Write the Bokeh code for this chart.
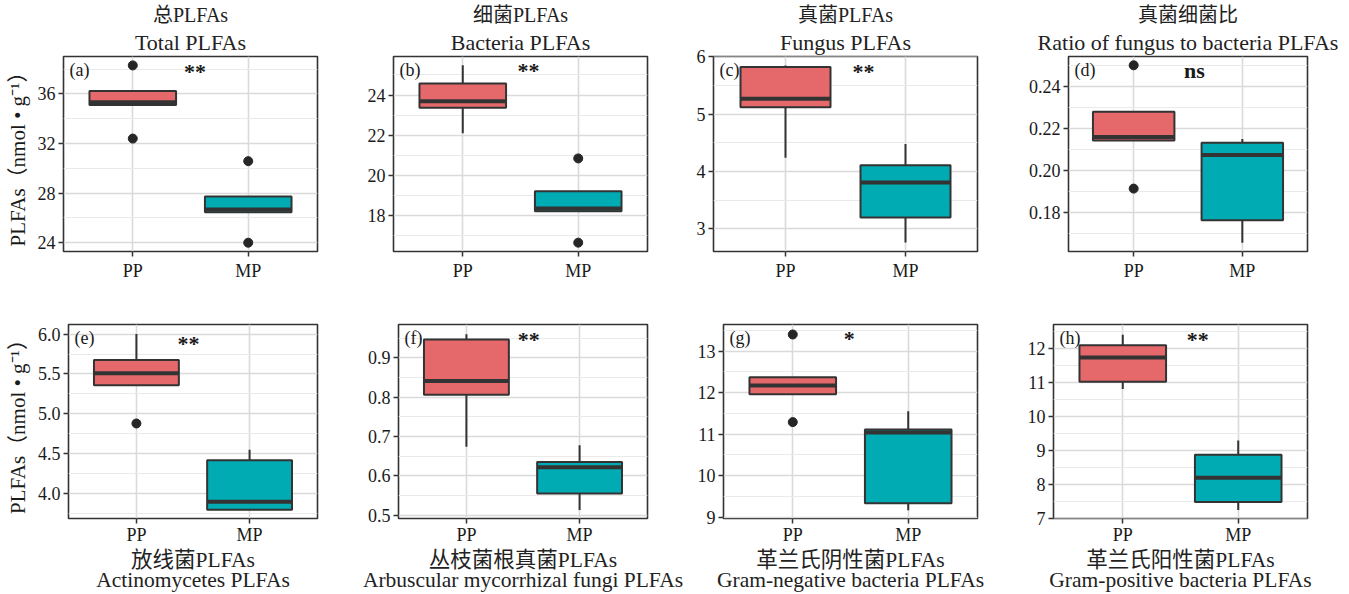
from bokeh.plotting import figure
from bokeh.layouts import row, column
from bokeh.models import Title, FixedTicker, PrintfTickFormatter, Range1d
from bokeh.embed import file_html
from bokeh.resources import INLINE
from bokeh.core.properties import value

# ---------------- data ----------------
groups = ["PP", "MP"]
group_pos = [1, 2]

titles_cn = ["总PLFAs", "细菌PLFAs", "真菌PLFAs", "真菌细菌比",
             "放线菌PLFAs", "丛枝菌根真菌PLFAs", "革兰氏阴性菌PLFAs", "革兰氏阳性菌PLFAs"]
titles_en = ["Total PLFAs", "Bacteria PLFAs", "Fungus PLFAs", "Ratio of fungus to bacteria PLFAs",
             "Actinomycetes PLFAs", "Arbuscular mycorrhizal fungi PLFAs",
             "Gram-negative bacteria PLFAs", "Gram-positive bacteria PLFAs"]
panel_tags = ["(a)", "(b)", "(c)", "(d)", "(e)", "(f)", "(g)", "(h)"]
sig_labels = ["**", "**", "**", "ns", "**", "**", "*", "**"]
sig_x = [1.54, 1.57, 1.65, 1.56, 1.46, 1.55, 1.49, 1.65]
sig_y = [37.85, 25.23, 5.75, 0.2476, 5.885, 0.947, 13.31, 12.27]

# [PP, MP] for each panel
box_q1 = [[35.11, 26.45], [23.37, 18.22], [5.12, 3.20], [0.2143, 0.1763],
          [5.36, 3.80], [0.806, 0.555], [11.96, 9.34], [11.02, 7.48]]
box_med = [[35.33, 26.68], [23.70, 18.36], [5.27, 3.81], [0.2160, 0.2074],
           [5.51, 3.90], [0.841, 0.622], [12.17, 11.04], [11.74, 8.19]]
box_q3 = [[36.24, 27.73], [24.58, 19.22], [5.82, 4.11], [0.2280, 0.2133],
          [5.674, 4.42], [0.947, 0.635], [12.37, 11.11], [12.10, 8.87]]
whisk_lo = [[35.11, 26.45], [22.10, 18.22], [4.24, 2.76], [0.2143, 0.1656],
            [5.36, 3.80], [0.674, 0.513], [11.96, 9.17], [10.81, 7.24]]
whisk_hi = [[36.24, 27.73], [25.48, 19.22], [5.85, 4.48], [0.2280, 0.2151],
            [6.00, 4.55], [0.960, 0.678], [12.37, 11.55], [12.41, 9.29]]
outliers_pp = [[38.3, 32.4], [], [], [0.2502, 0.1914], [4.88], [], [13.40, 11.29], []]
outliers_mp = [[30.58, 24.0], [20.85, 16.66], [], [], [], [], [], []]

y_ticks = [[24, 28, 32, 36], [18, 20, 22, 24], [3, 4, 5, 6], [0.18, 0.20, 0.22, 0.24],
           [4.0, 4.5, 5.0, 5.5, 6.0], [0.5, 0.6, 0.7, 0.8, 0.9], [9, 10, 11, 12, 13],
           [7, 8, 9, 10, 11, 12]]
y_fmt = ["%d", "%d", "%d", "%.2f", "%.1f", "%.1f", "%d", "%d"]
y_ranges = [(23.29, 39.02), (16.22, 25.92), (2.605, 6.005), (0.1614, 0.2544),
            (3.69, 6.12), (0.4915, 0.985), (8.97, 13.64), (6.99, 12.71)]
y_label = "PLFAs（nmol • g⁻¹）"

# ---------------- style / layout ----------------
SERIF = "'Liberation Serif', 'Noto Sans CJK SC', serif"
fills = ["#E5696B", "#00ABB3"]
dark = "#333333"
txt = "#1a1a1a"
BOX_W = 0.75

widths = [[340, 340, 330, 331], [340, 346, 324, 331]]
row_h = [296, 298]
left_b = [[63, 53, 33, 58], [68, 58, 37, 43]]
right_b = [[23, 33, 33, 34], [23, 39, 33, 34]]
top_b = [56, 28]
bot_b = [45, 74]


def make_panel(i):
    r, c = divmod(i, 4)
    p = figure(width=widths[r][c], height=row_h[r],
               output_backend="svg", toolbar_location=None, title_location=None,
               x_range=Range1d(0.4, 2.6), y_range=Range1d(*y_ranges[i]),
               min_border_left=left_b[r][c], min_border_right=right_b[r][c],
               min_border_top=top_b[r], min_border_bottom=bot_b[r],
               background_fill_color="white", border_fill_color="white")
    p.outline_line_color = dark
    p.outline_line_width = 1.6

    yt = y_ticks[i]
    step = yt[1] - yt[0]
    minors = [t - step / 2 for t in yt] + [yt[-1] + step / 2]
    p.yaxis.ticker = FixedTicker(ticks=yt, minor_ticks=minors)
    p.yaxis.formatter = PrintfTickFormatter(format=y_fmt[i])
    p.xaxis.ticker = FixedTicker(ticks=group_pos, minor_ticks=[])
    p.xaxis.major_label_overrides = {pos: g for pos, g in zip(group_pos, groups)}

    for ax in (p.xaxis[0], p.yaxis[0]):
        ax.axis_line_color = None
        ax.major_tick_out = 5
        ax.major_tick_in = 0
        ax.minor_tick_out = 0
        ax.minor_tick_in = 0
        ax.major_tick_line_color = dark
        ax.major_tick_line_width = 1.5
        ax.major_label_text_font = SERIF
        ax.major_label_text_font_size = "18px"
        ax.major_label_text_color = txt
        ax.major_label_standoff = 3
    p.xaxis.major_label_standoff = 4 if r == 0 else 1
    if c == 0:
        p.yaxis.axis_label = y_label
        p.yaxis.axis_label_text_font = SERIF
        p.yaxis.axis_label_text_font_size = "21px"
        p.yaxis.axis_label_text_font_style = "normal"
        p.yaxis.axis_label_text_color = txt
        p.yaxis.axis_label_standoff = 5

    p.xgrid.grid_line_color = "#DADADA"
    p.xgrid.grid_line_width = 1.6
    p.ygrid.grid_line_color = "#DADADA"
    p.ygrid.grid_line_width = 1.6
    p.ygrid.minor_grid_line_color = "#EAEAEA"
    p.ygrid.minor_grid_line_width = 1.0

    # whiskers
    p.segment(x0=group_pos, y0=box_q3[i], x1=group_pos, y1=whisk_hi[i],
              line_color=dark, line_width=2)
    p.segment(x0=group_pos, y0=whisk_lo[i], x1=group_pos, y1=box_q1[i],
              line_color=dark, line_width=2)
    # boxes
    p.vbar(x=group_pos, width=BOX_W, bottom=box_q1[i], top=box_q3[i],
           fill_color=fills, line_color=dark, line_width=2)
    # medians
    p.segment(x0=[g - BOX_W / 2 for g in group_pos], y0=box_med[i],
              x1=[g + BOX_W / 2 for g in group_pos], y1=box_med[i],
              line_color=dark, line_width=4)
    # outliers
    ox = [group_pos[0]] * len(outliers_pp[i]) + [group_pos[1]] * len(outliers_mp[i])
    oy = outliers_pp[i] + outliers_mp[i]
    if oy:
        p.scatter(x=ox, y=oy, size=9, color="#262626")

    # significance label
    p.text(x=[sig_x[i]], y=[sig_y[i]], text=[sig_labels[i]],
           text_font=value(SERIF), text_font_size="22px",
           text_font_style="bold", text_color=txt,
           text_align="center", text_baseline="middle")
    # panel tag
    p.text(x=[0.4], y=[y_ranges[i][1]], text=[panel_tags[i]],
           x_offset=6, y_offset=3, text_font=value(SERIF), text_font_size="18px",
           text_color=txt, text_align="left", text_baseline="top")

    if r == 0:
        # two title lines above the panel, nearest first
        for t, fs, so in [(titles_en[i], "22px", 4), (titles_cn[i], "20px", 0)]:
            p.add_layout(Title(text=t, align="center", text_font=SERIF,
                               text_font_size=fs, text_font_style="normal",
                               text_color="#222222", standoff=so, offset=0), "above")
    else:
        # two-line caption below the x axis
        p.xaxis.axis_label = titles_cn[i] + "\n" + titles_en[i]
        p.xaxis.axis_label_text_font = SERIF
        p.xaxis.axis_label_text_font_size = "21.5px"
        p.xaxis.axis_label_text_font_style = "normal"
        p.xaxis.axis_label_text_color = "#222222"
        p.xaxis.axis_label_text_line_height = 0.85
        p.xaxis.axis_label_standoff = 0
    return p


panels = [make_panel(i) for i in range(8)]
layout = column(row(*panels[:4]), row(*panels[4:]))

open("out.html", "w").write(file_html(layout, INLINE))
